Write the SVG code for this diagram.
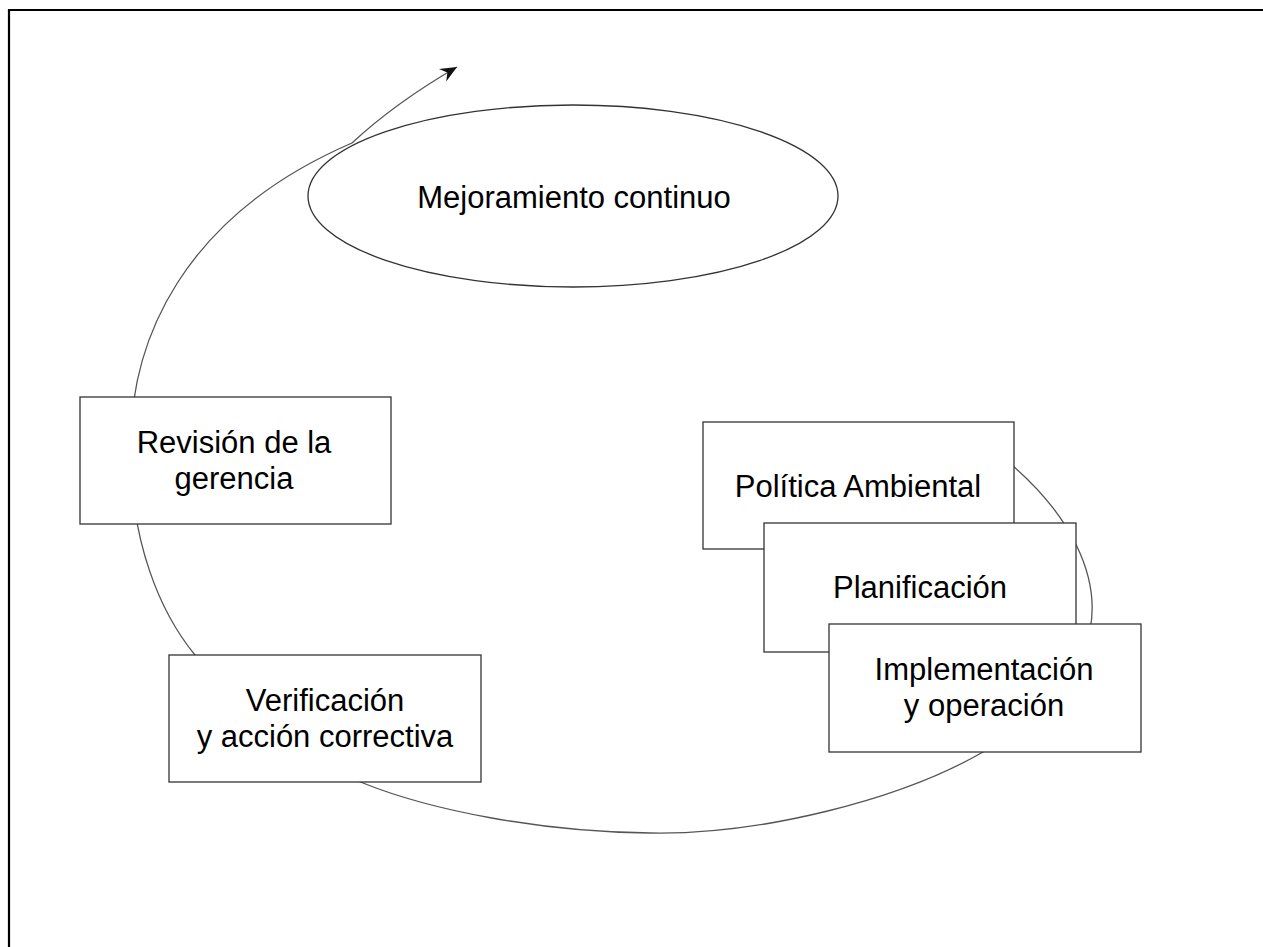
<svg xmlns="http://www.w3.org/2000/svg" width="1263" height="947" viewBox="0 0 1263 947">
<style>
.box{fill:#fff;stroke:#333;stroke-width:1.3}
.lbl{font-family:"Liberation Sans",Arial,sans-serif;font-size:31px;fill:#000;text-anchor:middle}
.loop{fill:none;stroke:#555;stroke-width:1.3}
</style>
<defs>
<marker id="ah" markerUnits="userSpaceOnUse" markerWidth="20" markerHeight="20" refX="0" refY="0" viewBox="-16 -8 18 16" orient="auto">
<path d="M0,0 L-15,-6.5 L-10,0 L-15,6.5 Z" fill="#111"/>
</marker>
</defs>
<rect width="1263" height="947" fill="#fff"/>
<path d="M9,947 V10 H1263" fill="none" stroke="#000" stroke-width="2.2"/>
<g id="connectors">
<path class="loop" d="M1000,455 C1075,515 1100,580 1090,630 C1080,690 1030,728 983,752 C900,800 760,835 650,833 C540,832 430,810 363,783 C290,755 230,700 195,655 C158,610 132,540 131,460 C126,340 185,215 352,143"/>
<path class="loop" d="M352,143 Q395,103 457,67" stroke="#222" stroke-width="1.5" marker-end="url(#ah)"/>
</g>
<g id="mejoramiento">
<ellipse cx="573" cy="196" rx="265" ry="91" fill="#fff" stroke="#333" stroke-width="1.3"/>
<text class="lbl" x="574" y="208">Mejoramiento continuo</text>
</g>
<g id="revision">
<rect class="box" x="80" y="397" width="311" height="127"/>
<text class="lbl" x="234" y="453">Revisión de la</text>
<text class="lbl" x="234" y="489">gerencia</text>
</g>
<g id="verificacion">
<rect class="box" x="169" y="655" width="312" height="127"/>
<text class="lbl" x="325" y="711">Verificación</text>
<text class="lbl" x="325" y="747">y acción correctiva</text>
</g>
<g id="politica">
<rect class="box" x="703" y="422" width="311" height="127"/>
<text class="lbl" x="858" y="497">Política Ambiental</text>
</g>
<g id="planificacion">
<rect class="box" x="764" y="523" width="312" height="129"/>
<text class="lbl" x="920" y="598">Planificación</text>
</g>
<g id="implementacion">
<rect class="box" x="829" y="624" width="312" height="128"/>
<text class="lbl" x="984" y="680">Implementación</text>
<text class="lbl" x="984" y="716">y operación</text>
</g>
</svg>
